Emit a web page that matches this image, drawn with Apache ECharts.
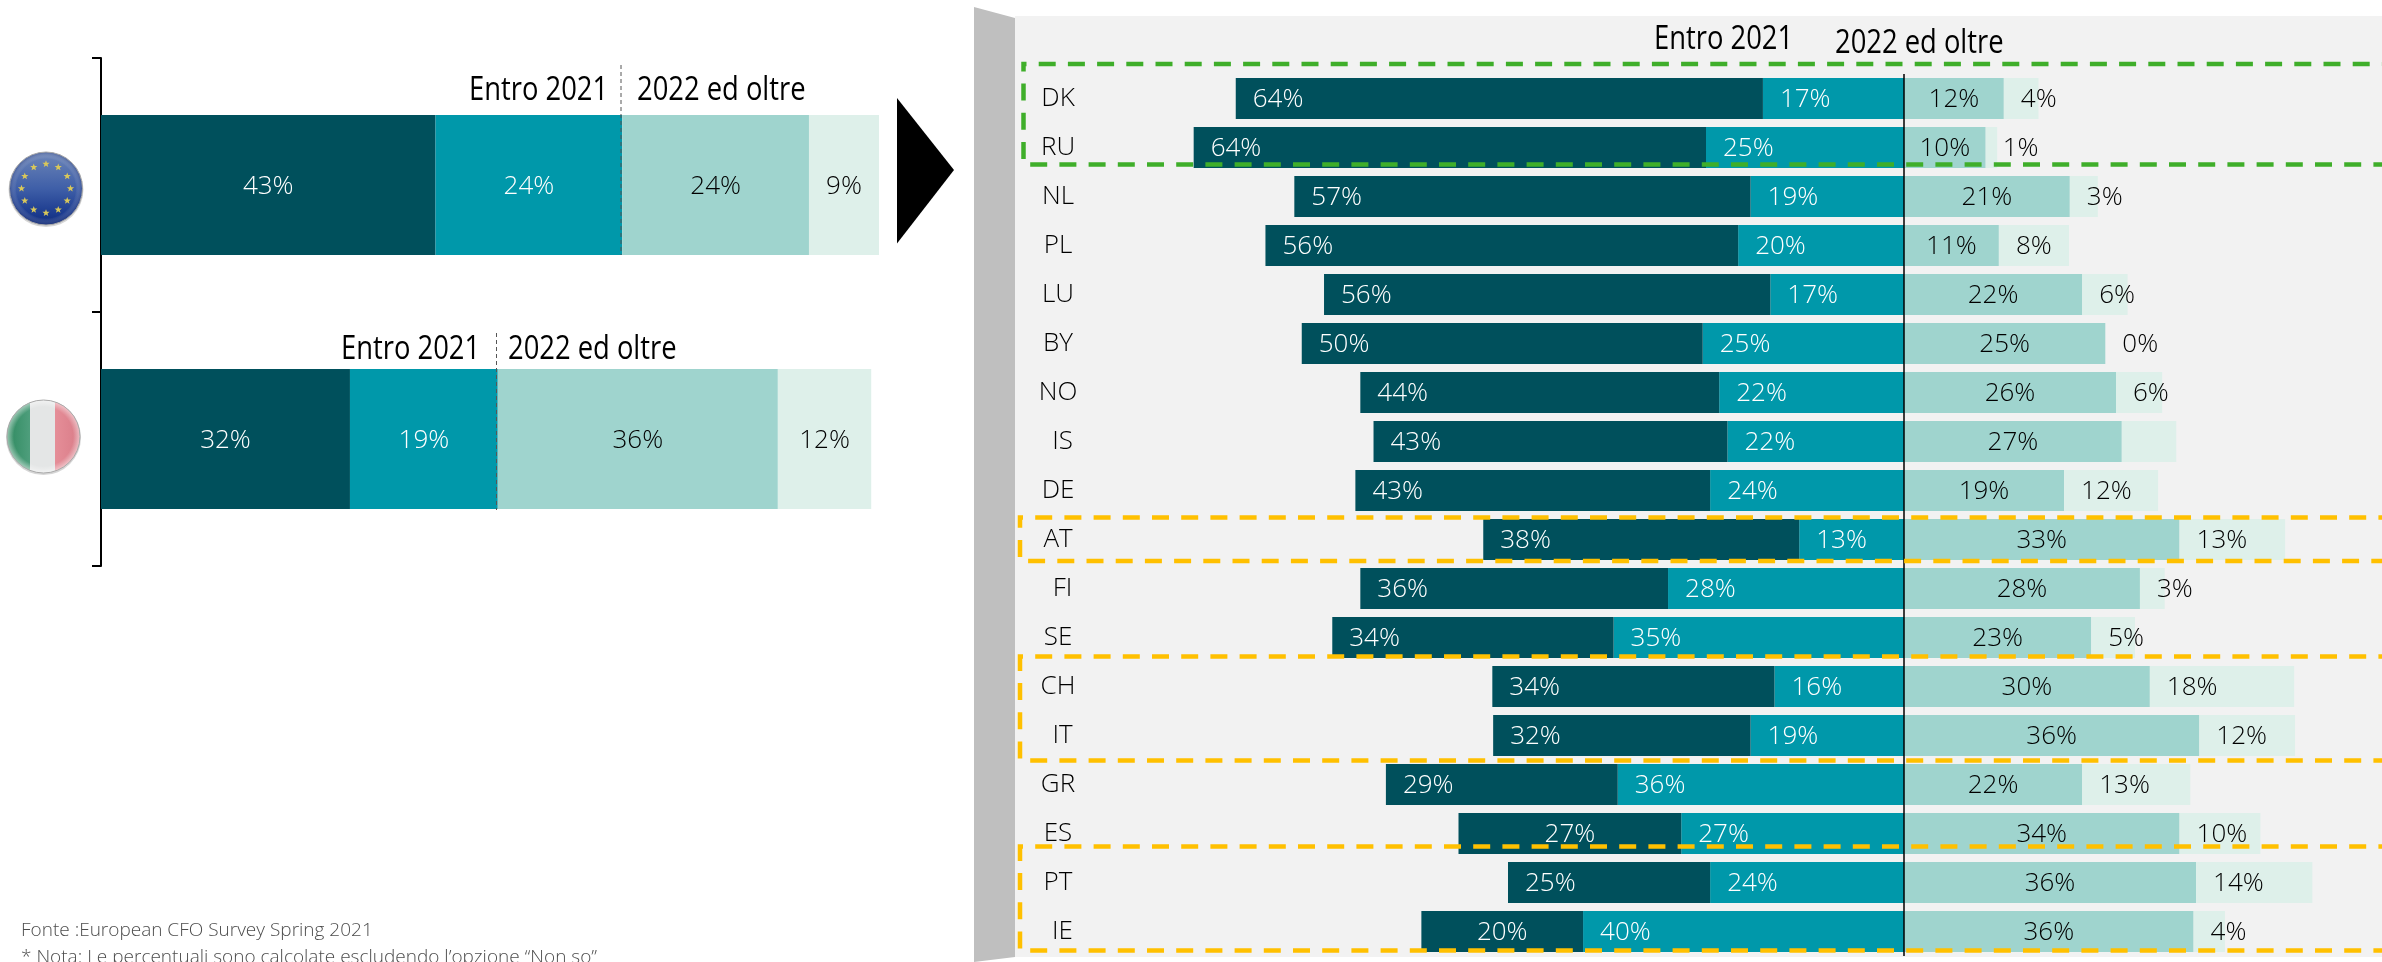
<!DOCTYPE html>
<html>
<head>
<meta charset="utf-8">
<title>European CFO Survey</title>
<script src="https://cdn.jsdelivr.net/npm/echarts@6/dist/echarts.min.js"></script>
<style>
html, body { margin: 0; padding: 0; background: #fff; overflow: hidden; }
#main { width: 2382px; height: 962px; }
</style>
</head>
<body>
<div id="main"></div>
<script>
// left chart: EU and Italy
var areeSinistra = ['EU', 'IT'];
var sxEntroScuro = [43, 32];
var sxEntroChiaro = [24, 19];
var sxOltreScuro = [24, 36];
var sxOltreChiaro = [9, 12];

// right chart: countries
var paesi = ['DK', 'RU', 'NL', 'PL', 'LU', 'BY', 'NO', 'IS', 'DE', 'AT', 'FI', 'SE', 'CH', 'IT', 'GR', 'ES', 'PT', 'IE'];
// bar lengths
var entroScuro = [63.9, 62.1, 55.3, 57.3, 54.1, 48.6, 43.5, 42.9, 43, 38.3, 37.3, 34.1, 34.2, 31.2, 28.1, 27, 24.5, 19.6];
var entroChiaro = [17.1, 24, 18.6, 20.1, 16.2, 24.4, 22.4, 21.4, 23.5, 12.7, 28.6, 35.2, 15.7, 18.6, 34.7, 27, 23.5, 38.9];
var oltreScuro = [12.1, 9.9, 20.1, 11.5, 21.6, 24.4, 25.7, 26.4, 19.4, 33.4, 28.6, 22.7, 29.8, 35.8, 21.6, 33.4, 35.4, 35.1];
var oltreChiaro = [4.2, 1.4, 3.4, 8.5, 5.5, 0, 5.6, 6.6, 11.4, 12.8, 3, 5.3, 17.5, 11.6, 13.1, 9.8, 14.1, 3.8];
// printed labels, they do not always agree with the bar length
var etichetteEntroScuro = ['64%', '64%', '57%', '56%', '56%', '50%', '44%', '43%', '43%', '38%', '36%', '34%', '34%', '32%', '29%', '27%', '25%', '20%'];
var etichetteEntroChiaro = ['17%', '25%', '19%', '20%', '17%', '25%', '22%', '22%', '24%', '13%', '28%', '35%', '16%', '19%', '36%', '27%', '24%', '40%'];
var etichetteOltreScuro = ['12%', '10%', '21%', '11%', '22%', '25%', '26%', '27%', '19%', '33%', '28%', '23%', '30%', '36%', '22%', '34%', '36%', '36%'];
var etichetteOltreChiaro = ['4%', '1%', '3%', '8%', '6%', '0%', '6%', '', '12%', '13%', '3%', '5%', '18%', '12%', '13%', '10%', '14%', '4%'];
var paesiCentrati = ['ES', 'IE'];
var paesiSpostati = ['IS', 'FI', 'IT', 'IE'];

var COL_SCURO = '#00505C';
var COL_TEAL = '#0098AA';
var COL_CHIARO = '#9FD4CE';
var COL_PALE = '#DEF0EA';
var FONT = '"Open Sans", sans-serif';

function leftSeries(name, values, color, textColor) {
    return {
        name: name,
        type: 'bar',
        stack: 'sx',
        xAxisIndex: 0,
        yAxisIndex: 0,
        barWidth: 140,
        data: values,
        itemStyle: { color: color },
        label: {
            show: true,
            position: 'inside',
            offset: [0, 2],
            fontFamily: FONT,
            fontWeight: 300,
            fontSize: 26,
            color: textColor,
            formatter: function (p) { return p.value + '%'; }
        }
    };
}

function rightSeries(name, sign, values, labels, color, textColor, position) {
    var seriesData = [];
    for (var i = 0; i < values.length; i++) {
        var item = { value: sign * values[i] };
        if (name == 'Entro 2021 (a)' && paesiCentrati.indexOf(paesi[i]) >= 0) {
            item.label = { position: 'inside' };
        }
        seriesData.push(item);
    }
    return {
        name: name,
        type: 'bar',
        stack: 'dx',
        xAxisIndex: 1,
        yAxisIndex: 1,
        barWidth: 41,
        data: seriesData,
        itemStyle: { color: color },
        label: {
            show: true,
            position: position,
            distance: 17,
            offset: [0, 1],
            fontFamily: FONT,
            fontWeight: 300,
            fontSize: 26,
            color: textColor,
            formatter: function (p) { return labels[p.dataIndex]; }
        }
    };
}

function headerText(text, x, y, fontSize, scaleX) {
    return {
        type: 'text',
        x: x,
        y: y,
        scaleX: scaleX,
        z: 10,
        style: {
            text: text,
            fontFamily: FONT,
            fontSize: fontSize,
            fill: '#000',
            verticalAlign: 'middle'
        }
    };
}

function dashedBox(x, y, w, h, color) {
    return {
        type: 'rect',
        z: 10,
        shape: { x: x, y: y, width: w, height: h },
        style: { fill: null, stroke: color, lineWidth: 4.5, lineDash: [17, 12.2], lineDashOffset: 14 }
    };
}

function starPoints(cx, cy, r) {
    var pts = [];
    for (var i = 0; i < 10; i++) {
        var rr = i % 2 == 0 ? r : r * 0.42;
        var a = -Math.PI / 2 + i * Math.PI / 5;
        pts.push([cx + rr * Math.cos(a), cy + rr * Math.sin(a)]);
    }
    return pts;
}

function flagBase(cx, cy, r) {
    return [
        // soft shadow round the badge
        { type: 'circle', z: 3, shape: { cx: cx, cy: cy + 1, r: r + 1 }, style: { fill: '#bbb', opacity: 0.6 } }
    ];
}

// glossy rim on top of the flag colours
function flagGloss(cx, cy, r, rimColor) {
    return {
        type: 'circle',
        z: 6,
        shape: { cx: cx, cy: cy, r: r },
        style: {
            stroke: '#aaa',
            lineWidth: 1,
            fill: new echarts.graphic.RadialGradient(0.5, 0.5, 0.5, [
                { offset: 0, color: 'rgba(255,255,255,0)' },
                { offset: 0.8, color: 'rgba(255,255,255,0)' },
                { offset: 1, color: rimColor }
            ])
        }
    };
}

function euFlag(cx, cy, r) {
    var list = flagBase(cx, cy, r);
    list.push({
        type: 'circle',
        z: 4,
        shape: { cx: cx, cy: cy, r: r },
        style: {
            fill: new echarts.graphic.LinearGradient(0, 0, 0, 1, [
                { offset: 0, color: '#6D86B8' },
                { offset: 0.5, color: '#3F5FA8' },
                { offset: 0.85, color: '#1B3A8E' },
                { offset: 1, color: '#0F2A78' }
            ])
        }
    });
    for (var i = 0; i < 12; i++) {
        var a = i * Math.PI / 6;
        list.push({
            type: 'polygon',
            z: 5,
            shape: { points: starPoints(cx + 24.5 * Math.sin(a), cy - 24.5 * Math.cos(a), 3.8) },
            style: { fill: '#D9C85A' }
        });
    }
    list.push(flagGloss(cx, cy, r, 'rgba(20,40,110,0.45)'));
    return list;
}

function itFlag(cx, cy, r) {
    var list = flagBase(cx, cy, r);
    list.push({
        type: 'circle',
        z: 4,
        shape: { cx: cx, cy: cy, r: r },
        style: {
            fill: new echarts.graphic.LinearGradient(0, 0, 1, 0, [
                { offset: 0, color: '#2F8A60' },
                { offset: 0.31, color: '#4E9E7C' },
                { offset: 0.31, color: '#E4E6E6' },
                { offset: 0.66, color: '#E4E6E6' },
                { offset: 0.66, color: '#E58E98' },
                { offset: 1, color: '#D97C88' }
            ])
        }
    });
    list.push(flagGloss(cx, cy, r, 'rgba(255,255,255,0.55)'));
    return list;
}

var graphicList = [
    // grey panel behind the right chart
    { type: 'rect', z: -2, shape: { x: 1015, y: 16, width: 1367, height: 941 }, style: { fill: '#F2F2F2' } },
    { type: 'polygon', z: -1, shape: { points: [[974, 7], [1015, 18], [1015, 957], [974, 962]] }, style: { fill: '#BFBFBF' } },
    // arrow
    { type: 'polygon', z: 3, shape: { points: [[897, 98], [954, 170], [897, 243.5]] }, style: { fill: '#000' } },
    // left chart headers and dividers
    headerText('Entro 2021', 469, 91, 32, 0.855),
    headerText('2022 ed oltre', 637, 91, 32, 0.855),
    headerText('Entro 2021', 341, 350, 32, 0.855),
    headerText('2022 ed oltre', 508, 350, 32, 0.855),
    { type: 'line', z: 6, shape: { x1: 621, y1: 65, x2: 621, y2: 255 }, style: { stroke: '#555', lineWidth: 1, lineDash: [4, 3] } },
    { type: 'line', z: 6, shape: { x1: 496.5, y1: 333, x2: 496.5, y2: 510 }, style: { stroke: '#555', lineWidth: 1, lineDash: [4, 3] } },
    // right chart headers
    headerText('Entro 2021', 1654, 40, 32, 0.855),
    headerText('2022 ed oltre', 1835, 44, 32, 0.855),
    // highlighted groups
    dashedBox(1023.5, 64, 1400, 100.5, '#3FAE2A'),
    dashedBox(1020, 517.5, 1400, 43.5, '#FFC000'),
    dashedBox(1020, 656.5, 1400, 104, '#FFC000'),
    dashedBox(1020, 846.5, 1400, 104, '#FFC000'),
    // footnotes
    { type: 'text', x: 21, y: 931, style: { text: 'Fonte :European CFO Survey Spring 2021', fontFamily: FONT, fontWeight: 300, fontSize: 19, fill: '#4d4d4d', verticalAlign: 'middle' } },
    { type: 'text', x: 21, y: 958, style: { text: '* Nota: Le percentuali sono calcolate escludendo l\u2019opzione \u201CNon so\u201D', fontFamily: FONT, fontWeight: 300, fontSize: 19, fill: '#4d4d4d', verticalAlign: 'middle' } }
].concat(euFlag(46, 188.5, 36.5), itFlag(43.5, 436.5, 36.5));

// a few country codes sit a little to the right in the original
var paesiAsse = [];
for (var p = 0; p < paesi.length; p++) {
    if (paesiSpostati.indexOf(paesi[p]) >= 0) {
        paesiAsse.push({ value: paesi[p], textStyle: { align: 'center', padding: [3, 0, 0, 9] } });
    } else {
        paesiAsse.push({ value: paesi[p] });
    }
}

var option = {
    animation: false,
    backgroundColor: '#fff',
    graphic: graphicList,
    grid: [
        { left: 101, top: 58, width: 778, height: 508 },
        { left: 1079, top: 74, width: 1237.5, height: 882 }
    ],
    xAxis: [
        { gridIndex: 0, type: 'value', min: 0, max: 100, show: false },
        { gridIndex: 1, type: 'value', min: -100, max: 50, show: false }
    ],
    yAxis: [
        {
            gridIndex: 0,
            type: 'category',
            inverse: true,
            data: areeSinistra,
            axisLine: { show: true, lineStyle: { color: '#000', width: 2 } },
            axisTick: { show: true, length: 9, lineStyle: { color: '#000', width: 2 } },
            axisLabel: { show: false }
        },
        {
            gridIndex: 1,
            type: 'category',
            inverse: true,
            data: paesiAsse,
            axisLine: { show: false },
            axisTick: { show: false },
            axisLabel: {
                align: 'center',
                margin: 21,
                padding: [3, 0, 0, 0],
                fontFamily: FONT,
                fontWeight: 300,
                fontSize: 26,
                color: '#000'
            }
        }
    ],
    series: [
        leftSeries('Entro 2021 (a)', sxEntroScuro, COL_SCURO, '#fff'),
        leftSeries('Entro 2021 (b)', sxEntroChiaro, COL_TEAL, '#fff'),
        leftSeries('2022 ed oltre (a)', sxOltreScuro, COL_CHIARO, '#000'),
        leftSeries('2022 ed oltre (b)', sxOltreChiaro, COL_PALE, '#000'),
        // teal goes first so it sits next to the zero line
        rightSeries('Entro 2021 (b)', -1, entroChiaro, etichetteEntroChiaro, COL_TEAL, '#fff', 'insideLeft'),
        rightSeries('Entro 2021 (a)', -1, entroScuro, etichetteEntroScuro, COL_SCURO, '#fff', 'insideLeft'),
        rightSeries('2022 ed oltre (a)', 1, oltreScuro, etichetteOltreScuro, COL_CHIARO, '#000', 'inside'),
        rightSeries('2022 ed oltre (b)', 1, oltreChiaro, etichetteOltreChiaro, COL_PALE, '#000', 'insideLeft')
    ]
};

// zero line of the right chart
option.series[6].markLine = {
    silent: true,
    symbol: 'none',
    label: { show: false },
    lineStyle: { color: '#000', width: 1.5, type: 'solid' },
    data: [{ xAxis: 0 }]
};

var myChart = echarts.init(document.getElementById('main'));
myChart.setOption(option);
</script>
</body>
</html>
